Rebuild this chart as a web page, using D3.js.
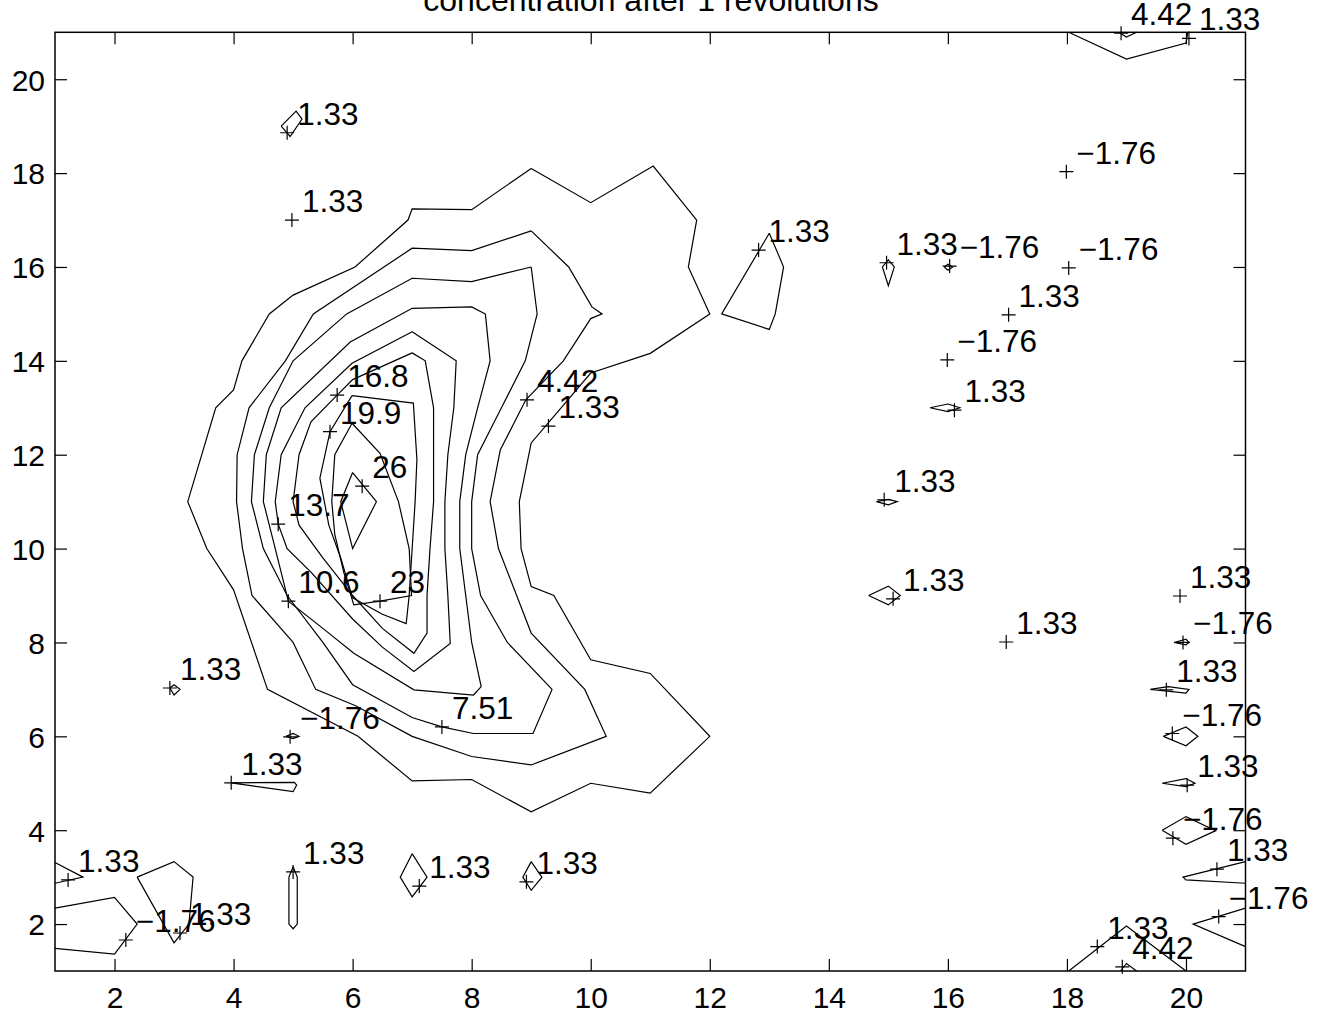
<!DOCTYPE html>
<html><head><meta charset="utf-8">
<script src="https://cdn.jsdelivr.net/npm/d3@7"></script>
<style>body{margin:0;background:#fff}</style>
</head><body>
<script>
const titleText = "concentration after 1 revolutions";
const xTicks = [2,4,6,8,10,12,14,16,18,20];
const yTicks = [2,4,6,8,10,12,14,16,18,20];

// contour polylines in data coordinates
const c133Main = [[9,18.1],[10,17.37],[11.05,18.15],[11.78,17],[11.64,16],[12,15],[11,14.16],[10,13.74],[9,12.25],[8.8,11],[8.83,10],[9,9.19],[9.38,9],[10,7.63],[11,7.34],[12,6],[11,4.79],[10,5],[9,4.39],[8,5.08],[7,5.05],[6.09,6],[4.57,7],[4,9.12],[3.55,10],[3.23,11],[3.7,13],[4,13.38],[4.14,14],[4.6,15],[5,15.4],[6.04,16],[6.93,17],[7,17.24],[8,17.22],[9,18.1]];
const c442Main = [[9,16.77],[9.63,16],[10.02,15.15],[10.19,15],[10,14.9],[9.54,14],[8.91,13.17],[8.48,12.1],[8.31,11],[8.45,10],[9,8.2],[9.9,7],[10.26,6],[9,5.39],[8,5.57],[7,6],[6.05,6.65],[5.38,7],[5,8],[4.31,9],[4.15,10],[4.05,11],[4.06,12],[4.26,13],[4.87,14],[5.34,15],[7,16.4],[8,16.35],[9,16.77]];
const c751Main = [[9,16],[9.1,15],[8.9,14],[8.5,13],[8.1,12],[8.0,11],[8.0,10],[8.15,9],[8.6,8],[9.35,7],[9.03,6.06],[8.03,6.06],[7.5,6.2],[7,6.4],[6,7.1],[5.5,8],[4.9,9],[4.5,10],[4.3,11],[4.35,12],[4.6,13],[5.0,14],[5.9,15],[7,15.76],[8,15.69],[9,16]];
const c106Main = [[8.23,15],[8.31,14],[8.1,13],[7.9,12],[7.8,11],[7.8,10],[7.9,9],[8.0,8],[8.16,7.06],[8.03,6.88],[7.03,6.99],[6.02,7.77],[5.5,8.3],[4.92,8.88],[4.7,10],[4.5,11],[4.55,12],[4.8,13],[5.96,14.4],[7,15.12],[8,15.15],[8.23,15]];
const c137Main = [[7,14.62],[7.74,14],[7.7,13],[7.6,12],[7.55,11],[7.55,10],[7.6,9],[7.64,7.98],[7.03,7.38],[6.5,7.9],[6,8.5],[5.3,9.5],[4.9,10],[4.75,10.52],[4.7,11],[4.8,12],[5.2,13],[5.99,13.95],[7,14.62]];
const c168Main = [[7,14.17],[7.22,14],[7.36,13],[7.36,11],[7.3,10],[7.25,9],[7.25,8.2],[7.03,7.77],[6.5,8.3],[6,9],[5.5,9.8],[5.1,10.5],[5.0,11],[5.1,12],[5.3,12.7],[5.74,13.27],[6,13.6],[7,14.17]];
const c199Main = [[5.99,13.26],[7.02,13.1],[7.08,11.9],[7.05,11],[7.0,10],[6.95,9],[6.9,8.4],[6.5,8.6],[6.0,8.95],[5.8,9.8],[5.6,10.5],[5.45,11.5],[5.62,12.49],[5.99,13.26]];
const c230Main = [[5.99,12.67],[6.46,12.03],[6.77,11],[6.95,10],[6.99,9],[6.46,8.88],[6.02,8.8],[5.85,9.5],[5.7,10.3],[5.65,11],[5.7,12],[5.99,12.67]];
const c260Main = [[6,11.62],[6.4,11],[6,10],[5.8,11],[6,11.62]];

const cSmall = [
  {level:1.33, pts:[[4.8,19],[5.05,19.32],[5.15,19.15],[4.95,18.78],[4.8,19]]},
  {level:1.33, pts:[[2.93,7.03],[3.0,7.1],[3.1,7.0],[3.0,6.88],[2.93,7.03]]},
  {level:-1.76, pts:[[4.88,6.0],[5.0,6.06],[5.1,6.0],[5.0,5.95],[4.88,6.0]]},
  {level:1.33, pts:[[3.96,5.01],[5.02,5.02],[5.06,4.96],[5.0,4.82],[3.96,5.01]]},
  {level:1.33, pts:[[5,3.22],[5.07,3],[5.07,2],[5,1.9],[4.93,2],[4.93,3],[5,3.22]]},
  {level:1.33, pts:[[7,3.5],[7.25,3],[7,2.58],[6.8,3],[7,3.5]]},
  {level:1.33, pts:[[9,3.33],[9.18,3],[9,2.72],[8.86,3],[9,3.33]]},
  {level:-1.76, pts:[[1,2.34],[2,2.57],[2.38,2],[2,1.36],[1,1.48]]},
  {level:1.33, pts:[[1,3.31],[1.47,3.0],[1,2.87]]},
  {level:1.33, pts:[[2.38,3],[3,3.33],[3.32,3],[3.25,2],[3,1.6],[2.38,3]]},
  {level:1.33, pts:[[18.03,1],[19,1.96],[20,1]]},
  {level:4.42, pts:[[18.9,1],[19,1.16],[19.17,1]]},
  {level:-1.76, pts:[[21,2.34],[20.12,2.0],[21,1.52]]},
  {level:1.33, pts:[[21,3.33],[19.95,3.0],[20.0,2.94],[21,2.87]]},
  {level:-1.76, pts:[[19.6,4.0],[20,4.29],[20.5,3.99],[20,3.7],[19.6,4.0]]},
  {level:1.33, pts:[[19.6,5],[20,5.1],[20.15,5],[20,4.93],[19.6,5]]},
  {level:-1.76, pts:[[19.62,6],[20,6.2],[20.2,6],[20,5.8],[19.62,6]]},
  {level:1.33, pts:[[19.4,7],[19.7,7.06],[20.05,7],[20,6.92],[19.4,7]]},
  {level:-1.76, pts:[[19.8,8],[20,8.07],[20.05,8],[20,7.95],[19.8,8]]},
  {level:1.33, pts:[[14.67,9],[15,9.2],[15.2,9],[15,8.8],[14.67,9]]},
  {level:1.33, pts:[[14.8,11],[15,11.05],[15.15,11],[15,10.93],[14.8,11]]},
  {level:1.33, pts:[[15.7,13],[16,13.08],[16.2,13],[16,12.92],[15.7,13]]},
  {level:1.33, pts:[[13,16.72],[13.24,16],[13.1,15],[13,14.67],[12.2,15],[13,16.72]]},
  {level:1.33, pts:[[14.9,16.0],[15,16.15],[15.1,16],[15,15.6],[14.9,16.0]]},
  {level:-1.76, pts:[[15.94,16],[16,16.06],[16.08,16],[16,15.93],[15.94,16]]},
  {level:1.33, pts:[[18.03,21],[19,20.43],[20,20.77],[20.03,21]]},
  {level:4.42, pts:[[18.87,21],[19,20.9],[19.17,21]]}
];

const mainContours = [c133Main,c442Main,c751Main,c106Main,c137Main,c168Main,c199Main,c230Main,c260Main];

// label marker positions (data coords) and texts
const labelText = ["1.33","1.33","16.8","19.9","26","13.7","10.6","23","4.42","1.33","7.51","1.33","−1.76","1.33","1.33","−1.76","1.33","1.33","1.33","1.33","1.33","1.33","−1.76","−1.76","−1.76","1.33","−1.76","1.33","1.33","1.33","1.33","1.33","−1.76","1.33","−1.76","1.33","−1.76","1.33","−1.76","1.33","4.42","4.42","1.33"];
const labelX = [4.90,4.98,5.74,5.62,6.16,4.75,4.92,6.46,8.93,9.29,7.50,2.93,4.95,3.96,1.22,2.19,3.10,5.0,7.12,8.92,12.82,14.97,16.03,17.99,18.03,17.02,15.99,16.11,14.93,15.08,16.98,19.9,19.95,19.67,19.77,20.02,19.78,20.52,20.55,18.51,18.93,18.91,20.05];
const labelY = [18.86,17.00,13.27,12.49,11.33,10.52,8.88,8.88,13.17,12.61,6.20,7.03,5.99,5.01,2.94,1.66,1.81,3.11,2.81,2.90,16.36,16.09,16.02,18.03,15.98,14.98,14.02,12.95,11.04,8.93,8.01,8.99,8.0,6.99,6.06,4.96,3.83,3.17,2.16,1.52,1.09,20.98,20.87];

const W = 1330, H = 1018;
const L = 55, R = 1245.5, T = 32.3, B = 971;
const FS = 30, LFS = 31.5;
const font = "'Liberation Sans', Arial, Helvetica, sans-serif";

const svg = d3.select("body").append("svg").attr("width", W).attr("height", H)
  .style("font-family", font);

const x = d3.scaleLinear().domain([1,21]).range([L,R]);
const y = d3.scaleLinear().domain([1,21]).range([B,T]);

const line = d3.line().x(d=>x(d[0])).y(d=>y(d[1]));

// axes box
svg.append("rect").attr("x",L).attr("y",T).attr("width",R-L).attr("height",B-T)
  .attr("fill","none").attr("stroke","#000").attr("stroke-width",1.5);

const tk = 12;
const xb = d3.axisBottom(x).tickValues(xTicks).tickSize(-tk).tickFormat(d3.format("d"));
const xt = d3.axisTop(x).tickValues(xTicks).tickSize(-tk).tickFormat("");
const yl = d3.axisLeft(y).tickValues(yTicks).tickSize(-tk).tickFormat(d3.format("d"));
const yr = d3.axisRight(y).tickValues(yTicks).tickSize(-tk).tickFormat("");

function style(g){
  g.select(".domain").remove();
  g.selectAll(".tick line").attr("stroke","#000").attr("stroke-width",1.2);
  g.selectAll(".tick text").attr("fill","#000").style("font-size",FS+"px").style("font-family",font);
}
svg.append("g").attr("transform",`translate(0,${B})`).call(xb).call(style)
  .selectAll(".tick text").attr("dy",null).attr("y",37);
svg.append("g").attr("transform",`translate(0,${T})`).call(xt).call(style);
svg.append("g").attr("transform",`translate(${L},0)`).call(yl).call(style)
  .selectAll(".tick text").attr("dy",null).attr("x",-10).attr("y",10.8);
svg.append("g").attr("transform",`translate(${R},0)`).call(yr).call(style);

// contours
const cg = svg.append("g").attr("fill","none").attr("stroke","#000").attr("stroke-width",1.2).attr("stroke-linejoin","miter");
mainContours.forEach(c => cg.append("path").attr("d", line(c)));
cSmall.forEach(c => cg.append("path").attr("d", line(c.pts)));

// labels
const lg = svg.append("g");
labelText.forEach((t,i)=>{
  const px = x(labelX[i]), py = y(labelY[i]);
  lg.append("path").attr("d",`M${px-7},${py}H${px+7}M${px},${py-7}V${py+7}`)
    .attr("stroke","#000").attr("stroke-width",1.2);
  lg.append("text").attr("x",px+10).attr("y",py-8).text(t)
    .style("font-size",LFS+"px").attr("fill","#000");
});

// title
svg.append("text").attr("x",651).attr("y",11).attr("text-anchor","middle")
  .style("font-size","32px").attr("fill","#000").text(titleText);
</script>
</body></html>
